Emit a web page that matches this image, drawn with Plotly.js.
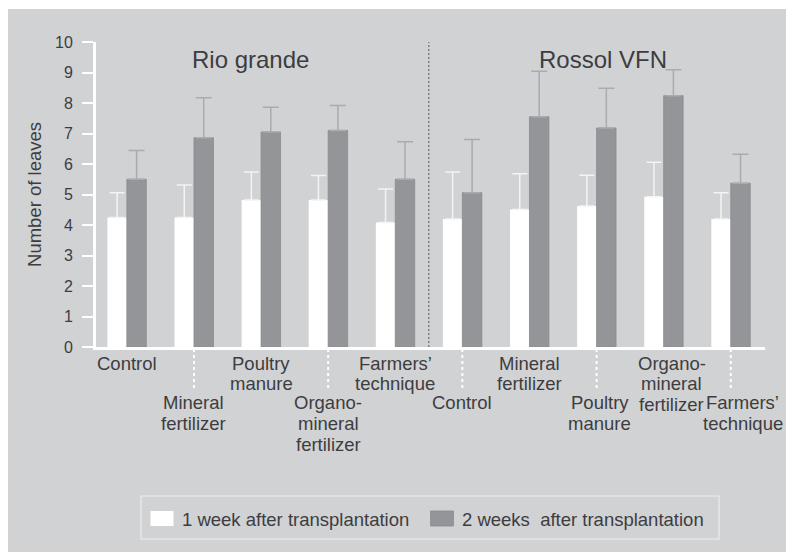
<!DOCTYPE html>
<html>
<head>
<meta charset="utf-8">
<script src="https://cdn.plot.ly/plotly-3.0.1.min.js"></script>
<style>
  html, body { margin: 0; padding: 0; background: #ffffff; }
  #chart { position: absolute; left: 8px; top: 9px; width: 778px; height: 543px; }
</style>
</head>
<body>
<div id="chart"></div>
<script>
// ---- data ----
const varieties = ['Rio grande', 'Rossol VFN'];
const treatments = ['Control', 'Mineral\nfertilizer', 'Poultry\nmanure', 'Organo-\nmineral\nfertilizer', 'Farmers\u2019\ntechnique'];
const categories = [
  'Control', 'Mineral\nfertilizer', 'Poultry\nmanure', 'Organo-\nmineral\nfertilizer', 'Farmers\u2019\ntechnique',
  'Control', 'Mineral\nfertilizer', 'Poultry\nmanure', 'Organo-\nmineral\nfertilizer', 'Farmers\u2019\ntechnique'
];
const week1Mean = [4.25, 4.25, 4.82, 4.82, 4.08, 4.20, 4.51, 4.62, 4.93, 4.20];
const week1Err  = [0.81, 1.06, 0.92, 0.80, 1.10, 1.54, 1.17, 1.01, 1.13, 0.86];
const week2Mean = [5.50, 6.86, 7.05, 7.10, 5.50, 5.06, 7.55, 7.18, 8.24, 5.37];
const week2Err  = [0.94, 1.31, 0.81, 0.82, 1.23, 1.74, 1.49, 1.30, 0.85, 0.95];
const seriesNames = ['1 week after transplantation', '2 weeks\u00a0 after transplantation'];
const yTickVals = [0, 1, 2, 3, 4, 5, 6, 7, 8, 9, 10];

// ---- styling ----
const BG = '#d1d2d4';
const TXT = '#3d3d3f';
const FONT = 'Liberation Sans, Arial, Helvetica, sans-serif';
const xIdx = categories.map((_, i) => i);
const zeros = categories.map(() => 0);
const labelNudge = { 7: 3, 8: 8, 9: 12 }; // px nudges of crowded labels

const traces = [
  {
    type: 'bar', name: seriesNames[0], x: xIdx, y: week1Mean, legendwidth: 235,
    marker: { color: '#ffffff', line: { width: 0 } },
    error_y: { type: 'data', symmetric: false, array: week1Err, arrayminus: zeros,
               color: '#f4f4f4', thickness: 1.5, width: 7.5 },
    hoverinfo: 'y'
  },
  {
    type: 'bar', name: seriesNames[1], x: xIdx, y: week2Mean, legendwidth: 252,
    marker: { color: '#939598', line: { width: 0.8, color: '#8a8b8e' } },
    error_y: { type: 'data', symmetric: false, array: week2Err, arrayminus: zeros,
               color: '#a9abae', thickness: 1.5, width: 8 },
    hoverinfo: 'y'
  }
];

const annotations = [];
const shapes = [];
const PW = 669, PH = 305; // plot area px, for px->paper conversion
categories.forEach((label, i) => {
  const lines = label.split('\n');
  const lowRow = i % 2 === 1;
  const startPx = lowRow ? 55.5 : 16;
  const step = lowRow ? 21 : 20.5;
  lines.forEach((ln, k) => {
    annotations.push({
      xref: 'x', yref: 'paper', x: i, y: 0, yshift: -(startPx + step * k),
      xshift: labelNudge[i] || 0,
      text: ln, showarrow: false, xanchor: 'center', yanchor: 'middle',
      font: { family: FONT, size: 18.5, color: TXT }
    });
  });
  if (lowRow) {
    shapes.push({
      type: 'line', xref: 'x', yref: 'paper', x0: i, x1: i,
      y0: -2 / PH, y1: -42 / PH,
      line: { color: '#ffffff', width: 2, dash: 'dot' }
    });
  }
});

// variety titles
const nT = treatments.length;
varieties.forEach((v, g) => {
  annotations.push({
    xref: 'x', yref: 'paper', x: g * nT + (nT - 1) / 2, xshift: g === 0 ? -11 : 6,
    y: 1, yshift: -17, text: v, showarrow: false, xanchor: 'center', yanchor: 'middle',
    font: { family: FONT, size: 24, color: TXT }
  });
});

// divider between varieties
shapes.push({
  type: 'line', xref: 'x', yref: 'paper', x0: nT - 0.5, x1: nT - 0.5, y0: 0, y1: 1,
  line: { color: '#6d6e71', width: 1.2, dash: '2px,2px' }
});

// legend frame
shapes.push({
  type: 'rect', xref: 'paper', yref: 'paper',
  x0: 45 / PW, x1: 623 / PW, y0: -192 / PH, y1: -149 / PH,
  line: { color: '#ededee', width: 1.2 }, fillcolor: 'rgba(0,0,0,0)'
});

const layout = {
  width: 778, height: 543,
  margin: { l: 88, r: 21, t: 33, b: 205 },
  paper_bgcolor: BG, plot_bgcolor: BG,
  font: { family: FONT, color: TXT },
  barmode: 'group', bargap: 0.42, bargroupgap: 0,
  showlegend: true,
  legend: {
    orientation: 'h', x: 46 / PW, y: -153 / PH, xanchor: 'left', yanchor: 'top',
    bgcolor: 'rgba(0,0,0,0)', borderwidth: 0,
    font: { family: FONT, size: 18.5, color: TXT },
    traceorder: 'normal'
  },
  xaxis: {
    range: [-0.46, 9.51], showgrid: false, zeroline: false,
    showticklabels: false, ticks: '',
    showline: true, linecolor: '#ffffff', linewidth: 3
  },
  yaxis: {
    range: [0, 10], tickvals: yTickVals, showgrid: false, zeroline: false,
    showline: true, linecolor: '#ffffff', linewidth: 3,
    ticks: 'outside', ticklen: 11, tickwidth: 2, tickcolor: '#ffffff',
    ticklabelstandoff: 6,
    tickfont: { family: FONT, size: 16, color: TXT },
    title: { text: 'Number of leaves', standoff: 9, font: { family: FONT, size: 18.5, color: TXT } }
  },
  annotations: annotations,
  shapes: shapes
};

function enlargeLegendSymbols(gd) {
  gd.querySelectorAll('.legend .legendpoints path').forEach(p => {
    p.setAttribute('d', 'M11.5,7.5H-11.5V-7.5H11.5Z');
  });
}

Plotly.newPlot('chart', traces, layout, { displayModeBar: false, staticPlot: true }).then(gd => {
  enlargeLegendSymbols(gd);
  gd.on('plotly_afterplot', () => enlargeLegendSymbols(gd));
});
</script>
</body>
</html>
